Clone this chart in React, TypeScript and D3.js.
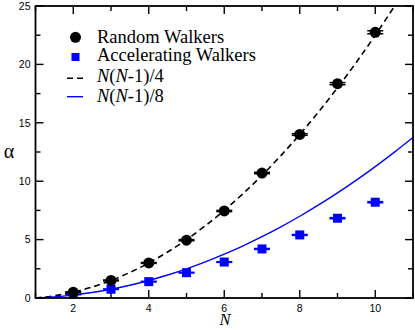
import * as d3 from "d3";

const W = 415;
const H = 330;
const MARGIN = { top: 6, right: 2, bottom: 32, left: 35.5 };

// measured points
const walkerN = [2, 3, 4, 5, 6, 7, 8, 9, 10];
const randomAlpha = [0.5, 1.5, 3.0, 4.95, 7.45, 10.7, 14.0, 18.35, 22.75];
const randomErr = [0.03, 0.04, 0.04, 0.05, 0.05, 0.06, 0.07, 0.09, 0.13];
const accelAlpha = [0.3, 0.75, 1.4, 2.17, 3.08, 4.2, 5.4, 6.83, 8.2];
const accelErr = [0.02, 0.02, 0.03, 0.03, 0.03, 0.04, 0.04, 0.05, 0.05];

// reference curves
const curveN = [1, 1.5, 2, 2.5, 3, 3.5, 4, 4.5, 5, 5.5, 6, 6.5, 7, 7.5, 8, 8.5, 9, 9.5, 10, 10.5, 11];
const quarterCurve = [0, 0.19, 0.5, 0.94, 1.5, 2.19, 3, 3.94, 5, 6.19, 7.5, 8.94, 10.5, 12.19, 14, 15.94, 18, 20.19, 22.5, 24.94, 27.5];
const eighthCurve = [0, 0.09, 0.25, 0.47, 0.75, 1.09, 1.5, 1.97, 2.5, 3.09, 3.75, 4.47, 5.25, 6.09, 7, 7.97, 9, 10.09, 11.25, 12.47, 13.75];

const xMajor = [2, 4, 6, 8, 10];
const xMinor = [1, 3, 5, 7, 9, 11];
const yMajor = [0, 5, 10, 15, 20, 25];
const yMinor = [2.5, 7.5, 12.5, 17.5, 22.5];

const legendLabels = ["Random Walkers", "Accelerating Walkers"];

const BLUE = "#0000ff";
const SERIF = "'Liberation Serif', 'Times New Roman', serif";
const SANS = "'Liberation Sans', Arial, sans-serif";

export default function App() {
  const x = d3.scaleLinear().domain([1, 11]).range([MARGIN.left, W - MARGIN.right]);
  const y = d3.scaleLinear().domain([0, 25]).range([H - MARGIN.bottom, MARGIN.top]);
  const x0 = MARGIN.left;
  const x1 = W - MARGIN.right;
  const y0 = H - MARGIN.bottom;
  const y1 = MARGIN.top;

  const line = d3
    .line<number>()
    .x((_, i) => x(curveN[i]))
    .curve(d3.curveMonotoneX);

  const dashedPath = line.y((d) => y(d))(quarterCurve) ?? "";
  const solidPath = line.y((d) => y(d))(eighthCurve) ?? "";

  const CAP = 8;

  return (
    <div style={{ position: "fixed", left: 0, top: 0 }}>
      <svg width={W} height={H} style={{ display: "block", background: "#fff" }}>
        <defs>
          <clipPath id="plot">
            <rect x={x0} y={y1} width={x1 - x0} height={y0 - y1} />
          </clipPath>
        </defs>
        <rect x={0} y={0} width={W} height={H} fill="#fff" />

        <g clipPath="url(#plot)">
          <path d={dashedPath} fill="none" stroke="#000" strokeWidth={1.6} strokeDasharray="6,4" />
          <path d={solidPath} fill="none" stroke={BLUE} strokeWidth={1.4} />
        </g>

        {/* accelerating walkers */}
        {walkerN.map((n, i) => {
          const cx = x(n);
          const cy = y(accelAlpha[i]);
          const lo = y(accelAlpha[i] - accelErr[i]);
          const hi = y(accelAlpha[i] + accelErr[i]);
          return (
            <g key={"a" + n}>
              <line x1={cx} x2={cx} y1={lo} y2={hi} stroke={BLUE} strokeWidth={1.5} />
              <line x1={cx - CAP} x2={cx + CAP} y1={lo} y2={lo} stroke={BLUE} strokeWidth={1.5} />
              <line x1={cx - CAP} x2={cx + CAP} y1={hi} y2={hi} stroke={BLUE} strokeWidth={1.5} />
              <rect x={cx - 4.5} y={cy - 4.5} width={9} height={9} fill={BLUE} />
            </g>
          );
        })}

        {/* random walkers */}
        {walkerN.map((n, i) => {
          const cx = x(n);
          const cy = y(randomAlpha[i]);
          const lo = y(randomAlpha[i] - randomErr[i]);
          const hi = y(randomAlpha[i] + randomErr[i]);
          return (
            <g key={"r" + n}>
              <line x1={cx} x2={cx} y1={lo} y2={hi} stroke="#000" strokeWidth={1.5} />
              <line x1={cx - CAP} x2={cx + CAP} y1={lo} y2={lo} stroke="#000" strokeWidth={1.5} />
              <line x1={cx - CAP} x2={cx + CAP} y1={hi} y2={hi} stroke="#000" strokeWidth={1.5} />
              <circle cx={cx} cy={cy} r={5.5} fill="#000" />
            </g>
          );
        })}

        {/* frame + ticks */}
        <rect x={x0} y={y1} width={x1 - x0} height={y0 - y1} fill="none" stroke="#000" strokeWidth={1.8} />
        {xMajor.map((v) => (
          <g key={"xM" + v}>
            <line x1={x(v)} x2={x(v)} y1={y0} y2={y0 - 8} stroke="#000" strokeWidth={1.4} />
            <line x1={x(v)} x2={x(v)} y1={y1} y2={y1 + 8} stroke="#000" strokeWidth={1.4} />
            <text x={x(v)} y={y0 + 14} textAnchor="middle" fontFamily={SANS} fontSize={10.5}>
              {v}
            </text>
          </g>
        ))}
        {xMinor.map((v) => (
          <g key={"xm" + v}>
            <line x1={x(v)} x2={x(v)} y1={y0} y2={y0 - 5} stroke="#000" strokeWidth={1.4} />
            <line x1={x(v)} x2={x(v)} y1={y1} y2={y1 + 5} stroke="#000" strokeWidth={1.4} />
          </g>
        ))}
        {yMajor.map((v) => (
          <g key={"yM" + v}>
            <line x1={x0} x2={x0 + 8} y1={y(v)} y2={y(v)} stroke="#000" strokeWidth={1.4} />
            <line x1={x1} x2={x1 - 8} y1={y(v)} y2={y(v)} stroke="#000" strokeWidth={1.4} />
            <text x={x0 - 5} y={y(v) + 3.8} textAnchor="end" fontFamily={SANS} fontSize={10.5}>
              {v}
            </text>
          </g>
        ))}
        {yMinor.map((v) => (
          <g key={"ym" + v}>
            <line x1={x0} x2={x0 + 5} y1={y(v)} y2={y(v)} stroke="#000" strokeWidth={1.4} />
            <line x1={x1} x2={x1 - 5} y1={y(v)} y2={y(v)} stroke="#000" strokeWidth={1.4} />
          </g>
        ))}

        {/* axis titles */}
        <text x={225} y={325} textAnchor="middle" fontFamily={SERIF} fontStyle="italic" fontSize={16.5}>
          N
        </text>
        <text x={9} y={158} textAnchor="middle" fontFamily={SERIF} fontSize={20}>
          α
        </text>

        {/* legend */}
        <g fontFamily={SERIF} fontSize={18.5}>
          <circle cx={75.5} cy={37.3} r={5.5} fill="#000" />
          <text x={97} y={43.3}>{legendLabels[0]}</text>
          <rect x={71.5} y={53} width={8} height={8} fill={BLUE} />
          <text x={97} y={61.2}>{legendLabels[1]}</text>
          <line x1={67} x2={84} y1={78.3} y2={78.3} stroke="#000" strokeWidth={1.6} strokeDasharray="6,4" />
          <text x={97} y={81.7}>
            <tspan fontStyle="italic">N</tspan>(<tspan fontStyle="italic">N</tspan>-1)/4
          </text>
          <line x1={67} x2={83} y1={96.7} y2={96.7} stroke={BLUE} strokeWidth={1.4} />
          <text x={97} y={101.7}>
            <tspan fontStyle="italic">N</tspan>(<tspan fontStyle="italic">N</tspan>-1)/8
          </text>
        </g>
      </svg>
    </div>
  );
}
